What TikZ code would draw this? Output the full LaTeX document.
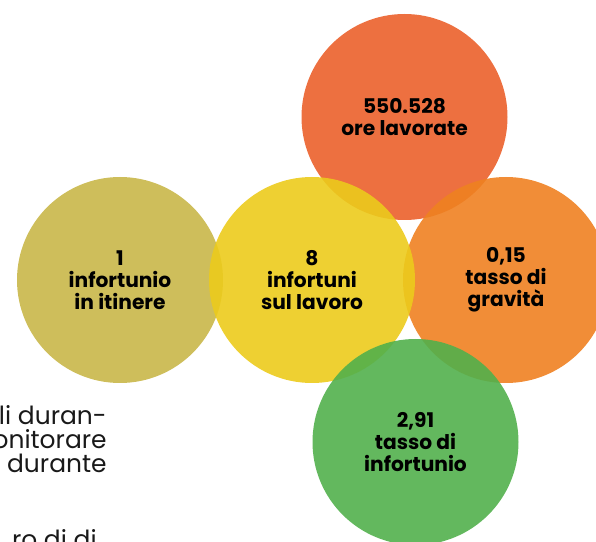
\documentclass[tikz,border=0pt]{standalone}
\usepackage{fontspec}
\setmainfont{Poppins}
\usepackage{tikz}

\definecolor{olivec}{HTML}{C9B749}
\definecolor{yellowc}{HTML}{ECCB1C}
\definecolor{redc}{HTML}{EB602B}
\definecolor{orangec}{HTML}{EF8121}
\definecolor{greenc}{HTML}{52B04C}

\tikzset{
  bubble/.style={circle, minimum size=4.12cm, inner sep=0pt, fill=#1,
    fill opacity=0.9, text opacity=1, align=center,
    font=\fontsize{11.5}{12.6}\selectfont\bfseries},
  bodytext/.style={anchor=base east, inner sep=0pt, text=black!90,
    font=\fontsize{14.2}{15}\selectfont}
}

\begin{document}
\begin{tikzpicture}
  \useasboundingbox (0,0) rectangle (11.92,10.82);

  \node[bubble=redc] (ore) at (8.09,8.48) {550.528\\ore lavorate};
  \node[bubble=orangec] (gravita) at (10.12,5.22) {0,15\\tasso di\\gravità};
  \node[bubble=olivec] (itinere) at (2.40,5.22) {1\\infortunio\\in itinere};
  \node[bubble=yellowc] (lavoro) at (6.24,5.22) {8\\infortuni\\sul lavoro};
  \node[bubble=greenc] (tasso) at (8.31,1.98) {2,91\\tasso di\\infortunio};

  \node[bodytext] (riga1) at (2.14,2.32) {li duran-};
  \node[bodytext] (riga2) at (2.14,1.86) {onitorare};
  \node[bodytext] (riga3) at (2.14,1.38) {durante};
  \node[bodytext] (riga4) at (1.94,-0.14) {ro di di};
\end{tikzpicture}
\end{document}
